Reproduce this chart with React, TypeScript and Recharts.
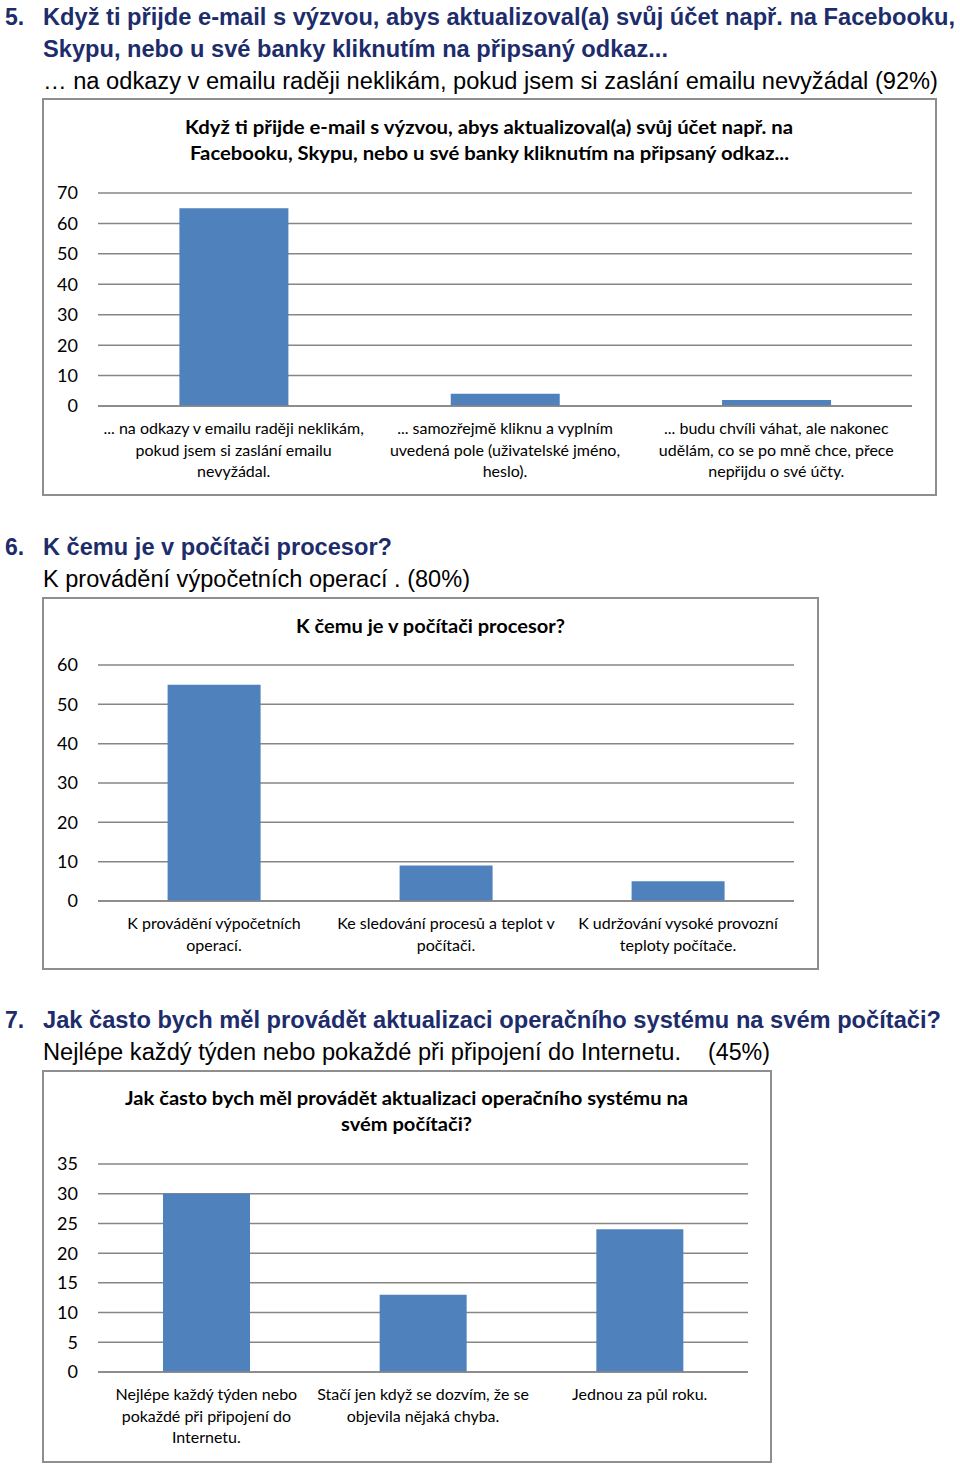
import { BarChart, Bar, XAxis, YAxis, CartesianGrid } from "recharts";

// chart 1: phishing e-mail
const phishCategories = [
  "... na odkazy v emailu raději neklikám,\npokud jsem si zaslání emailu\nnevyžádal.",
  "... samozřejmě kliknu a vyplním\nuvedená pole (uživatelské jméno,\nheslo).",
  "... budu chvíli váhat, ale nakonec\nudělám, co se po mně chce, přece\nnepřijdu o své účty.",
];
const phishValues = [65, 4, 2];
const phishTicks = [0, 10, 20, 30, 40, 50, 60, 70];

// chart 2: processor
const cpuCategories = [
  "K provádění výpočetních\noperací.",
  "Ke sledování procesů a teplot v\npočítači.",
  "K udržování vysoké provozní\nteploty počítače.",
];
const cpuValues = [55, 9, 5];
const cpuTicks = [0, 10, 20, 30, 40, 50, 60];

// chart 3: OS updates
const updCategories = [
  "Nejlépe každý týden nebo\npokaždé při připojení do\nInternetu.",
  "Stačí jen když se dozvím, že se\nobjevila nějaká chyba.",
  "Jednou za půl roku.",
];
const updValues = [30, 13, 24];
const updTicks = [0, 5, 10, 15, 20, 25, 30, 35];

const BAR = "#4F81BD";
const GRID = "#868686";
const NAVY = "#1d2c6b";
const CHART_FONT = "Lato, 'Open Sans', sans-serif";
const HEAD_FONT = "'Liberation Sans', Arial, sans-serif";

const MultiLineTick = (props: any) => {
  const { x, y, payload } = props;
  const lines = String(payload.value).split("\n");
  return (
    <text x={x} y={y} textAnchor="middle" fontFamily={CHART_FONT} fontSize={16} fill="#000">
      {lines.map((l, i) => (
        <tspan key={i} x={x} y={y + 28 + i * 21.5}>
          {l}
        </tspan>
      ))}
    </text>
  );
};

type BoxProps = {
  left: number;
  top: number;
  width: number;
  height: number;
  plotLeft: number;
  plotRight: number;
  plotTop: number;
  plotBottom: number;
  categories: string[];
  values: number[];
  ticks: number[];
};

function ChartBox(p: BoxProps) {
  const data = p.categories.map((name, i) => ({ name, value: p.values[i] }));
  const max = p.ticks[p.ticks.length - 1];
  return (
    <>
      <div
        style={{
          position: "absolute",
          left: p.left,
          top: p.top,
          width: p.width,
          height: p.height,
          border: "2px solid #8e8e8e",
          boxSizing: "border-box",
        }}
      />
      <div style={{ position: "absolute", left: p.left, top: p.top }}>
        <BarChart
          width={p.width}
          height={p.height}
          data={data}
          barCategoryGap="30%"
          margin={{
            top: p.plotTop - p.top,
            right: p.left + p.width - p.plotRight,
            left: 0,
            bottom: 0,
          }}
        >
          <CartesianGrid vertical={false} stroke={GRID} strokeWidth={1.5} />
          <XAxis
            dataKey="name"
            interval={0}
            tickLine={false}
            tickSize={0}
            tickMargin={0}
            height={p.top + p.height - p.plotBottom}
            stroke={GRID}
            strokeWidth={1.5}
            tick={<MultiLineTick />}
          />
          <YAxis
            width={p.plotLeft - p.left}
            domain={[0, max]}
            ticks={p.ticks}
            interval={0}
            axisLine={false}
            tickLine={false}
            tickSize={0}
            tickMargin={20}
            tick={{ fontFamily: CHART_FONT, fontSize: 18, fill: "#000" }}
          />
          <Bar dataKey="value" fill={BAR} isAnimationActive={false} />
        </BarChart>
      </div>
    </>
  );
}

export default function App() {
  const fit = { lengthAdjust: "spacingAndGlyphs" as const };
  return (
    <div
      style={{
        position: "absolute",
        left: 0,
        top: 0,
        width: 960,
        height: 1464,
        background: "#fff",
        overflow: "hidden",
      }}
    >
      <ChartBox
        left={42}
        top={98}
        width={895}
        height={398}
        plotLeft={98}
        plotRight={912}
        plotTop={193}
        plotBottom={406}
        categories={phishCategories}
        values={phishValues}
        ticks={phishTicks}
      />
      <ChartBox
        left={42}
        top={597}
        width={777}
        height={373}
        plotLeft={98}
        plotRight={794}
        plotTop={665}
        plotBottom={901}
        categories={cpuCategories}
        values={cpuValues}
        ticks={cpuTicks}
      />
      <ChartBox
        left={42}
        top={1070}
        width={730}
        height={393}
        plotLeft={98}
        plotRight={748}
        plotTop={1164}
        plotBottom={1372}
        categories={updCategories}
        values={updValues}
        ticks={updTicks}
      />

      <svg
        width={960}
        height={1464}
        style={{ position: "absolute", left: 0, top: 0, pointerEvents: "none" }}
      >
        <g fontFamily={HEAD_FONT} fontSize={23}>
          <g fill={NAVY} fontWeight="bold">
            <text x={5} y={25}>5.</text>
            <text x={43} y={25} textLength={912} {...fit}>
              Když ti přijde e-mail s výzvou, abys aktualizoval(a) svůj účet např. na Facebooku,
            </text>
            <text x={43} y={57} textLength={625} {...fit}>
              Skypu, nebo u své banky kliknutím na připsaný odkaz...
            </text>
            <text x={5} y={555}>6.</text>
            <text x={43} y={555} textLength={349} {...fit}>
              K čemu je v počítači procesor?
            </text>
            <text x={5} y={1028}>7.</text>
            <text x={43} y={1028} textLength={898} {...fit}>
              Jak často bych měl provádět aktualizaci operačního systému na svém počítači?
            </text>
          </g>
          <g fill="#000">
            <text x={43} y={89} textLength={895} {...fit}>
              … na odkazy v emailu raději neklikám, pokud jsem si zaslání emailu nevyžádal (92%)
            </text>
            <text x={43} y={587} textLength={427} {...fit}>
              K provádění výpočetních operací . (80%)
            </text>
            <text x={43} y={1060} textLength={638} {...fit}>
              Nejlépe každý týden nebo pokaždé při připojení do Internetu.
            </text>
            <text x={708} y={1060} textLength={62} {...fit}>
              (45%)
            </text>
          </g>
        </g>
        <g fontFamily={CHART_FONT} fontSize={18} fontWeight="bold" fill="#000">
          <text x={185} y={134} textLength={608} {...fit}>
            Když ti přijde e-mail s výzvou, abys aktualizoval(a) svůj účet např. na
          </text>
          <text x={190} y={160} textLength={599} {...fit}>
            Facebooku, Skypu, nebo u své banky kliknutím na připsaný odkaz...
          </text>
          <text x={296} y={633} textLength={269} {...fit}>
            K čemu je v počítači procesor?
          </text>
          <text x={125} y={1105} textLength={563} {...fit}>
            Jak často bych měl provádět aktualizaci operačního systému na
          </text>
          <text x={341} y={1131} textLength={131} {...fit}>
            svém počítači?
          </text>
        </g>
      </svg>
    </div>
  );
}
